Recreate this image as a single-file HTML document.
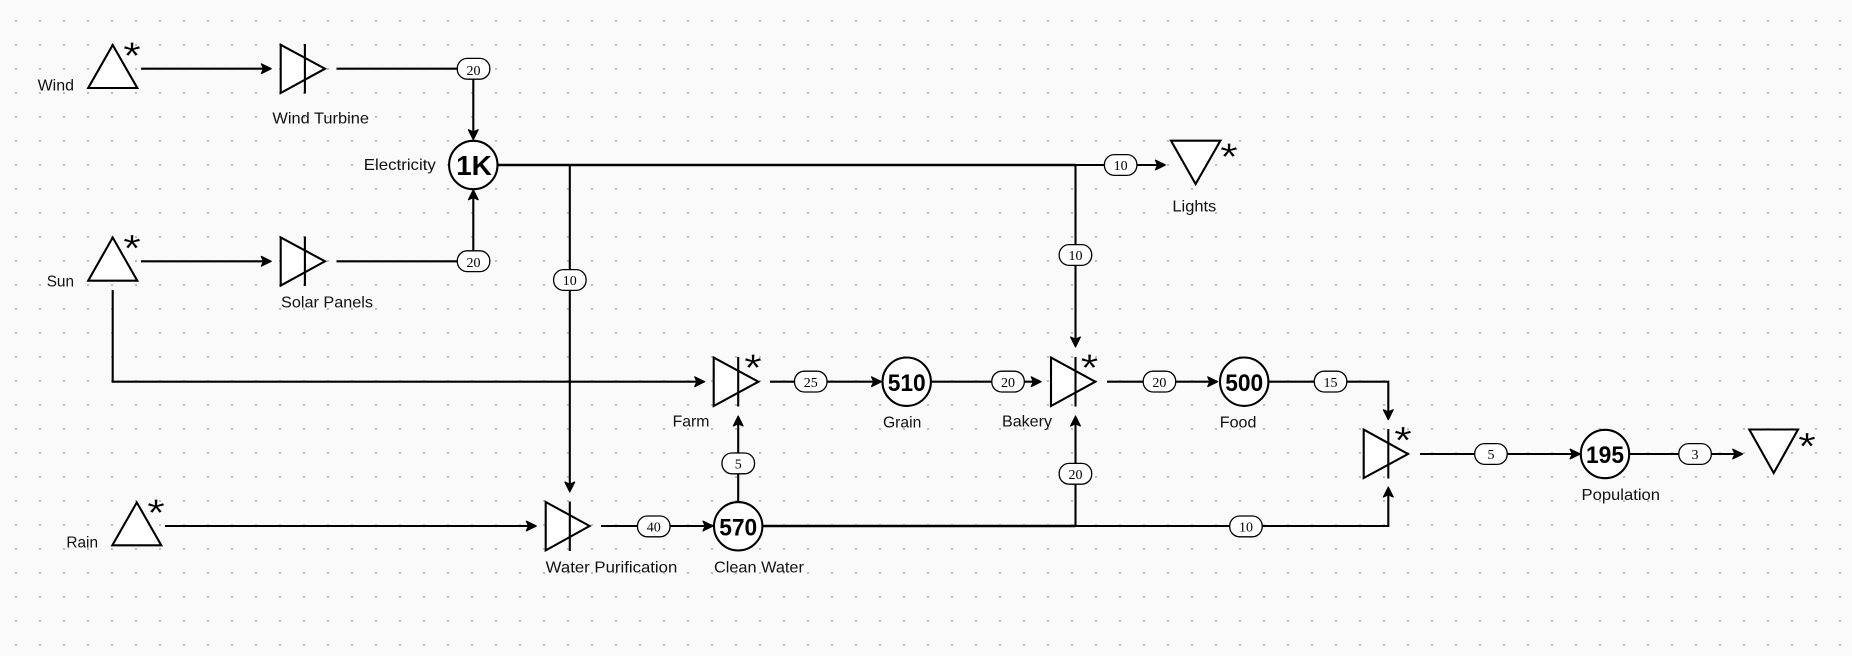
<!DOCTYPE html>
<html>
<head>
<meta charset="utf-8">
<style>
html,body{margin:0;padding:0;background:#fafafa;width:1852px;height:656px;overflow:hidden}
svg{display:block}
.l{fill:none;stroke:#000;stroke-width:2.1}
.t{fill:none;stroke:#000;stroke-width:2.6}
.s{fill:#fff;stroke:#000;stroke-width:2.1;stroke-linejoin:miter}
.p{fill:#fff;stroke:#000;stroke-width:1.3}
.lb{font:16px "Liberation Sans",sans-serif;fill:#111}
.n{font:bold 24px "Liberation Sans",sans-serif;fill:#000;text-anchor:middle}
.v{font:14px "Liberation Serif",serif;fill:#000;text-anchor:middle}
.a{font:38px "Liberation Sans",sans-serif;fill:#000;text-anchor:middle;stroke:#fafafa;stroke-width:.25}
</style>
</head>
<body>
<svg width="1852" height="656" viewBox="0 0 1852 656" xmlns="http://www.w3.org/2000/svg">
<defs>
<pattern id="g" x="15" y="20" width="24" height="24" patternUnits="userSpaceOnUse"><rect width="2" height="2" fill="#bdbdbd"/></pattern>
<marker id="m" markerUnits="userSpaceOnUse" markerWidth="16" markerHeight="16" refX="9" refY="8" orient="auto"><path d="M0.8,3.2 L10.6,8 L0.8,12.8 L3,8 z" fill="#000" stroke="#000" stroke-width="1.3" stroke-linejoin="round"/></marker>
</defs>
<rect width="1852" height="656" fill="#fafafa"/>
<rect width="1852" height="656" fill="url(#g)"/>

<!-- connectors -->
<path class="l" marker-end="url(#m)" d="M141,68.7H269.6"/>
<path class="l" d="M336.5,68.7H473.3"/>
<path class="l" marker-end="url(#m)" d="M473.3,68.7V138"/>
<path class="l" marker-end="url(#m)" d="M141,261.3H269.6"/>
<path class="l" d="M336.5,261.3H473.3"/>
<path class="l" marker-end="url(#m)" d="M473.3,261.3V191.5"/>
<path class="t" d="M497,165H1075.5"/>
<path class="l" marker-end="url(#m)" d="M1075.5,165H1163.7"/>
<path class="l" marker-end="url(#m)" d="M569.8,165V490.3"/>
<path class="l" marker-end="url(#m)" d="M1075.5,165V345.3"/>
<path class="l" marker-end="url(#m)" d="M112.7,290V381.7H703"/>
<path class="l" marker-end="url(#m)" d="M770,381.7H879.8"/>
<path class="l" marker-end="url(#m)" d="M931,381.7H1039.5"/>
<path class="l" marker-end="url(#m)" d="M1107,381.7H1216"/>
<path class="l" marker-end="url(#m)" d="M1268,381.7H1388.3V418"/>
<path class="l" marker-end="url(#m)" d="M1420,454H1578.4"/>
<path class="l" marker-end="url(#m)" d="M1629,454H1741"/>
<path class="l" marker-end="url(#m)" d="M165,526H534.6"/>
<path class="l" marker-end="url(#m)" d="M601,526H711.3"/>
<path class="l" marker-end="url(#m)" d="M738.2,502V417.7"/>
<path class="t" d="M762,526H1075.5"/>
<path class="l" marker-end="url(#m)" d="M1075.5,526V417.7"/>
<path class="l" marker-end="url(#m)" d="M1075.5,526H1388.3V488.7"/>

<!-- sources and sinks -->
<path class="s" d="M112.7,45 L137.3,88 H88.2 Z"/>
<path class="s" d="M112.7,237.5 L137.3,280.7 H88.2 Z"/>
<path class="s" d="M136.8,502.5 L161.3,545.3 H112.3 Z"/>
<path class="s" d="M1171,140.7 H1220.4 L1195.6,184 Z"/>
<path class="s" d="M1749.3,429.5 H1798 L1773.7,473 Z"/>

<!-- valves -->
<path class="s" d="M280.7,44.8 L325,68.7 L280.7,93 Z"/><path class="l" d="M304.9,44V93.5"/>
<path class="s" d="M280.7,237.4 L325,261.3 L280.7,285.6 Z"/><path class="l" d="M304.9,236.5V286"/>
<path class="s" d="M545.7,502 L589.6,526 L545.7,550.4 Z"/><path class="l" d="M569.8,501.5V551"/>
<path class="s" d="M713.7,357.6 L758.4,381.7 L713.7,406 Z"/><path class="l" d="M738.2,357V406.5"/>
<path class="s" d="M1051,357.6 L1095.3,381.7 L1051,406 Z"/><path class="l" d="M1075.5,357V406.5"/>
<path class="s" d="M1363.7,429.6 L1408,454 L1363.7,478 Z"/><path class="l" d="M1388.3,429V478.5"/>

<!-- stocks -->
<circle class="s" cx="473.3" cy="165" r="24.2"/>
<circle class="s" cx="906.7" cy="381.7" r="24.2"/>
<circle class="s" cx="1244.2" cy="381.7" r="24.2"/>
<circle class="s" cx="738.2" cy="526.3" r="24.2"/>
<circle class="s" cx="1605" cy="454" r="24.2"/>
<text class="n" x="474" y="175.2" style="font-size:28px">1K</text>
<text class="n" x="906.7" y="390.8" textLength="38" lengthAdjust="spacingAndGlyphs">510</text>
<text class="n" x="1244.2" y="390.8" textLength="38" lengthAdjust="spacingAndGlyphs">500</text>
<text class="n" x="738.2" y="535.6" textLength="38" lengthAdjust="spacingAndGlyphs">570</text>
<text class="n" x="1605" y="463.2" textLength="38" lengthAdjust="spacingAndGlyphs">195</text>

<!-- pills -->
<rect class="p" x="457.3" y="58.4" width="32.5" height="20.8" rx="10" />
<rect class="p" x="457.3" y="250.8" width="32.5" height="20.8" rx="10"/>
<rect class="p" x="553.6" y="269.6" width="32.5" height="20.8" rx="10"/>
<rect class="p" x="1104.4" y="154.6" width="32.5" height="20.8" rx="10"/>
<rect class="p" x="1059.2" y="244.6" width="32.5" height="20.8" rx="10"/>
<rect class="p" x="794.5" y="371.2" width="32.5" height="20.8" rx="10"/>
<rect class="p" x="991.8" y="371.2" width="32.5" height="20.8" rx="10"/>
<rect class="p" x="1143.2" y="371.2" width="32.5" height="20.8" rx="10"/>
<rect class="p" x="1314.3" y="371.2" width="32.5" height="20.8" rx="10"/>
<rect class="p" x="722" y="453" width="32.5" height="20.8" rx="10"/>
<rect class="p" x="1059.2" y="463.4" width="32.5" height="20.8" rx="10"/>
<rect class="p" x="637.5" y="516" width="32.5" height="20.8" rx="10"/>
<rect class="p" x="1229.7" y="516" width="32.5" height="20.8" rx="10"/>
<rect class="p" x="1474.7" y="443.6" width="32.5" height="20.8" rx="10"/>
<rect class="p" x="1678.8" y="443.6" width="32.5" height="20.8" rx="10"/>
<text class="v" x="473.5" y="74.8">20</text>
<text class="v" x="473.5" y="267.2">20</text>
<text class="v" x="569.8" y="285.2">10</text>
<text class="v" x="1120.6" y="170.2">10</text>
<text class="v" x="1075.5" y="260.2">10</text>
<text class="v" x="810.8" y="386.8">25</text>
<text class="v" x="1008" y="386.8">20</text>
<text class="v" x="1159.4" y="386.8">20</text>
<text class="v" x="1330.5" y="386.8">15</text>
<text class="v" x="738.2" y="468.6">5</text>
<text class="v" x="1075.5" y="479">20</text>
<text class="v" x="653.8" y="531.6">40</text>
<text class="v" x="1246" y="531.6">10</text>
<text class="v" x="1491" y="459.2">5</text>
<text class="v" x="1695" y="459.2">3</text>

<!-- asterisks -->
<text class="a" transform="translate(132,68.5) scale(1.2,1)">*</text>
<text class="a" transform="translate(132,261) scale(1.2,1)">*</text>
<text class="a" transform="translate(156,525.5) scale(1.2,1)">*</text>
<text class="a" transform="translate(1229,169.5) scale(1.2,1)">*</text>
<text class="a" transform="translate(753,380.5) scale(1.2,1)">*</text>
<text class="a" transform="translate(1089.5,380.5) scale(1.2,1)">*</text>
<text class="a" transform="translate(1403,453) scale(1.2,1)">*</text>
<text class="a" transform="translate(1807,459) scale(1.2,1)">*</text>

<!-- labels -->
<text class="lb" x="37.6" y="90.5" textLength="36.4" lengthAdjust="spacingAndGlyphs">Wind</text>
<text class="lb" x="272.4" y="123.5" textLength="96.6" lengthAdjust="spacingAndGlyphs">Wind Turbine</text>
<text class="lb" x="363.8" y="170" textLength="72" lengthAdjust="spacingAndGlyphs">Electricity</text>
<text class="lb" x="46.7" y="286.5" textLength="27.3" lengthAdjust="spacingAndGlyphs">Sun</text>
<text class="lb" x="281" y="307.5" textLength="92" lengthAdjust="spacingAndGlyphs">Solar Panels</text>
<text class="lb" x="66.4" y="547.5" textLength="31.6" lengthAdjust="spacingAndGlyphs">Rain</text>
<text class="lb" x="545.7" y="572.5" textLength="131.6" lengthAdjust="spacingAndGlyphs">Water Purification</text>
<text class="lb" x="714" y="572.5" textLength="89.9" lengthAdjust="spacingAndGlyphs">Clean Water</text>
<text class="lb" x="672.6" y="426.5" textLength="36.8" lengthAdjust="spacingAndGlyphs">Farm</text>
<text class="lb" x="883" y="427.5" textLength="38.3" lengthAdjust="spacingAndGlyphs">Grain</text>
<text class="lb" x="1002" y="426.5" textLength="50" lengthAdjust="spacingAndGlyphs">Bakery</text>
<text class="lb" x="1219.8" y="427.5" textLength="36.6" lengthAdjust="spacingAndGlyphs">Food</text>
<text class="lb" x="1581.5" y="500.2" textLength="78.5" lengthAdjust="spacingAndGlyphs">Population</text>
<text class="lb" x="1172.4" y="211.5" textLength="43.9" lengthAdjust="spacingAndGlyphs">Lights</text>
</svg>
</body>
</html>
